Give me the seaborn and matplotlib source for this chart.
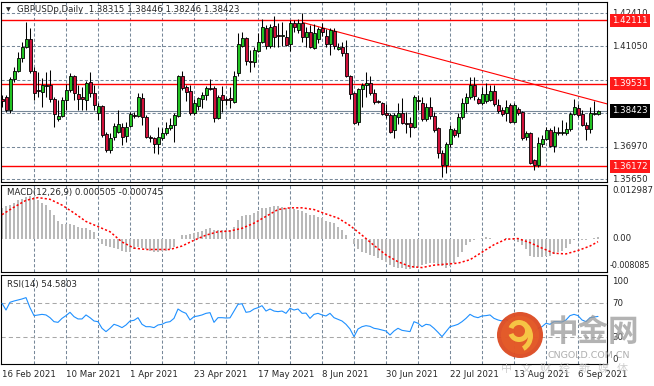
import numpy as np
import matplotlib
matplotlib.use("Agg")
import matplotlib.pyplot as plt
import seaborn as sns
from matplotlib.patches import Circle, Wedge

# Daily GBPUSD candles, 16 Feb 2021 .. 13 Sep 2021
opens = [
    1.3891, 1.3899, 1.3846, 1.3972, 1.4005, 1.4058, 1.4103, 1.4135, 1.4005, 1.3928,
    1.3919, 1.3948, 1.3948, 1.3891, 1.3810, 1.3822, 1.3887, 1.3928, 1.3985, 1.3911,
    1.3899, 1.3887, 1.3960, 1.3915, 1.3834, 1.3862, 1.3749, 1.3683, 1.3736, 1.3757,
    1.3777, 1.3740, 1.3781, 1.3826, 1.3822, 1.3895, 1.3818, 1.3736, 1.3732, 1.3708,
    1.3732, 1.3753, 1.3773, 1.3785, 1.3822, 1.3985, 1.3940, 1.3924, 1.3834, 1.3862,
    1.3891, 1.3907, 1.3936, 1.3936, 1.3814, 1.3907, 1.3891, 1.3895, 1.3879, 1.3997,
    1.4107, 1.4139, 1.4046, 1.4042, 1.4086, 1.4123, 1.4180, 1.4107, 1.4188, 1.4151,
    1.4147, 1.4143, 1.4115, 1.4200, 1.4172, 1.4200, 1.4143, 1.4164, 1.4099, 1.4135,
    1.4180, 1.4147, 1.4115, 1.4168, 1.4094, 1.4103, 1.4078, 1.3985, 1.3915, 1.3797,
    1.3932, 1.3948, 1.3956, 1.3915, 1.3883, 1.3875, 1.3834, 1.3826, 1.3765, 1.3818,
    1.3834, 1.3793, 1.3793, 1.3777, 1.3887, 1.3875, 1.3810, 1.3858, 1.3822, 1.3773,
    1.3671, 1.3622, 1.3708, 1.3765, 1.3753, 1.3818, 1.3875, 1.3899, 1.3948, 1.3891,
    1.3875, 1.3883, 1.3887, 1.3924, 1.3867, 1.3846, 1.3834, 1.3867, 1.3797, 1.3850,
    1.3838, 1.3736, 1.3753, 1.3643, 1.3622, 1.3708, 1.3728, 1.3765, 1.3700, 1.3757,
    1.3753, 1.3753, 1.3769, 1.3830, 1.3854, 1.3830, 1.3785, 1.3769, 1.3830, 1.38315,
]
highs = [
    1.3907, 1.3907, 1.3980, 1.4021, 1.4082, 1.4123, 1.4204, 1.4180, 1.4021, 1.4001,
    1.3976, 1.4001, 1.4009, 1.3899, 1.3887, 1.3899, 1.3952, 1.3997, 1.3989, 1.3948,
    1.3940, 1.3964, 1.4001, 1.3948, 1.3875, 1.3867, 1.3757, 1.3753, 1.3793, 1.3846,
    1.3793, 1.3797, 1.3838, 1.3838, 1.3915, 1.3915, 1.3826, 1.3744, 1.3736, 1.3777,
    1.3773, 1.3797, 1.3814, 1.3834, 1.3989, 1.4005, 1.3948, 1.3948, 1.3891, 1.3899,
    1.3919, 1.3944, 1.3972, 1.3944, 1.3907, 1.3944, 1.3899, 1.3940, 1.4005, 1.4160,
    1.4164, 1.4143, 1.4090, 1.4103, 1.4160, 1.4217, 1.4192, 1.4196, 1.4229, 1.4200,
    1.4204, 1.4172, 1.4212, 1.4212, 1.4217, 1.4241, 1.4184, 1.4192, 1.4196, 1.4184,
    1.4200, 1.4176, 1.4180, 1.4180, 1.4119, 1.4123, 1.4131, 1.3989, 1.3919, 1.3936,
    1.3956, 1.4001, 1.3985, 1.3932, 1.3887, 1.3879, 1.3871, 1.3834, 1.3834, 1.3875,
    1.3895, 1.3838, 1.3818, 1.3907, 1.3907, 1.3899, 1.3875, 1.3899, 1.3838, 1.3777,
    1.3683, 1.3716, 1.3785, 1.3773, 1.3834, 1.3895, 1.3915, 1.3980, 1.3980, 1.3899,
    1.3940, 1.3956, 1.3948, 1.3948, 1.3891, 1.3858, 1.3887, 1.3875, 1.3875, 1.3858,
    1.3842, 1.3761, 1.3757, 1.3647, 1.3736, 1.3744, 1.3777, 1.3773, 1.3781, 1.3777,
    1.3806, 1.3797, 1.3838, 1.3891, 1.3871, 1.3846, 1.3797, 1.3858, 1.3883, 1.38446,
]
lows = [
    1.3858, 1.3838, 1.3834, 1.3960, 1.4001, 1.4042, 1.4099, 1.3997, 1.3887, 1.3899,
    1.3858, 1.3899, 1.3879, 1.3777, 1.3801, 1.3818, 1.3846, 1.3919, 1.3887, 1.3846,
    1.3846, 1.3846, 1.3899, 1.3846, 1.3806, 1.3736, 1.3675, 1.3671, 1.3724, 1.3753,
    1.3704, 1.3716, 1.3777, 1.3814, 1.3818, 1.3785, 1.3732, 1.3716, 1.3671, 1.3667,
    1.3724, 1.3744, 1.3765, 1.3716, 1.3818, 1.3928, 1.3883, 1.3826, 1.3826, 1.3846,
    1.3854, 1.3887, 1.3928, 1.3797, 1.3810, 1.3838, 1.3867, 1.3854, 1.3875, 1.3985,
    1.4103, 1.4029, 1.4001, 1.4021, 1.4082, 1.4119, 1.4094, 1.4099, 1.4103, 1.4103,
    1.4107, 1.4107, 1.4086, 1.4164, 1.4160, 1.4123, 1.4103, 1.4099, 1.4094, 1.4119,
    1.4147, 1.4103, 1.4070, 1.4094, 1.4090, 1.4066, 1.3980, 1.3891, 1.3789, 1.3785,
    1.3858, 1.3899, 1.3907, 1.3871, 1.3875, 1.3826, 1.3814, 1.3753, 1.3732, 1.3789,
    1.3789, 1.3753, 1.3736, 1.3773, 1.3846, 1.3801, 1.3801, 1.3810, 1.3757, 1.3651,
    1.3574, 1.3590, 1.3696, 1.3736, 1.3736, 1.3810, 1.3838, 1.3891, 1.3887, 1.3871,
    1.3867, 1.3875, 1.3883, 1.3862, 1.3834, 1.3822, 1.3801, 1.3793, 1.3793, 1.3826,
    1.3724, 1.3724, 1.3626, 1.3602, 1.3614, 1.3696, 1.3724, 1.3696, 1.3675, 1.3744,
    1.3744, 1.3744, 1.3761, 1.3826, 1.3818, 1.3781, 1.3724, 1.3753, 1.3826, 1.38246,
]
closes = [
    1.3883, 1.3846, 1.3972, 1.4005, 1.4058, 1.4103, 1.4135, 1.4005, 1.3915, 1.3924,
    1.3948, 1.3944, 1.3891, 1.3830, 1.3822, 1.3887, 1.3928, 1.3985, 1.3915, 1.3891,
    1.3891, 1.3956, 1.3915, 1.3867, 1.3862, 1.3744, 1.3683, 1.3732, 1.3781, 1.3789,
    1.3736, 1.3777, 1.3830, 1.3822, 1.3899, 1.3818, 1.3736, 1.3732, 1.3708, 1.3736,
    1.3753, 1.3773, 1.3785, 1.3826, 1.3985, 1.3936, 1.3919, 1.3834, 1.3875, 1.3895,
    1.3907, 1.3936, 1.3932, 1.3814, 1.3899, 1.3887, 1.3887, 1.3887, 1.3985, 1.4115,
    1.4139, 1.4046, 1.4042, 1.4090, 1.4123, 1.4184, 1.4107, 1.4184, 1.4143, 1.4147,
    1.4151, 1.4111, 1.4200, 1.4184, 1.4200, 1.4143, 1.4164, 1.4103, 1.4160, 1.4176,
    1.4164, 1.4115, 1.4172, 1.4107, 1.4103, 1.4078, 1.3985, 1.3911, 1.3793, 1.3932,
    1.3948, 1.3956, 1.3915, 1.3879, 1.3879, 1.3830, 1.3826, 1.3757, 1.3826, 1.3834,
    1.3793, 1.3789, 1.3777, 1.3899, 1.3883, 1.3810, 1.3858, 1.3822, 1.3765, 1.3671,
    1.3622, 1.3708, 1.3769, 1.3744, 1.3818, 1.3875, 1.3899, 1.3948, 1.3903, 1.3875,
    1.3911, 1.3911, 1.3924, 1.3871, 1.3842, 1.3830, 1.3858, 1.3797, 1.3867, 1.3834,
    1.3732, 1.3753, 1.3630, 1.3622, 1.3712, 1.3728, 1.3765, 1.3700, 1.3757, 1.3753,
    1.3757, 1.3769, 1.3830, 1.3858, 1.3826, 1.3785, 1.3769, 1.3834, 1.3834, 1.38423,
]

# MACD(12,26,9) main (histogram) and signal (read every third bar)
macd_main = [
    0.00746, 0.00787, 0.00812, 0.00870, 0.00928, 0.00969, 0.01010, 0.01035, 0.01010, 0.00928,
    0.00870, 0.00812, 0.00704, 0.00564, 0.00415, 0.00349, 0.00349, 0.00345, 0.00332, 0.00291,
    0.00266, 0.00250, 0.00208, 0.00167, 0.00010, -0.00122, -0.00180, -0.00205, -0.00230, -0.00246,
    -0.00288, -0.00312, -0.00329, -0.00263, -0.00205, -0.00230, -0.00263, -0.00288, -0.00312, -0.00312,
    -0.00305, -0.00288, -0.00246, -0.00205, -0.00015, 0.00084, 0.00084, 0.00101, 0.00126, 0.00167,
    0.00192, 0.00225, 0.00250, 0.00208, 0.00208, 0.00208, 0.00208, 0.00208, 0.00291, 0.00456,
    0.00539, 0.00564, 0.00564, 0.00622, 0.00680, 0.00746, 0.00746, 0.00762, 0.00779, 0.00779,
    0.00762, 0.00746, 0.00746, 0.00729, 0.00704, 0.00663, 0.00622, 0.00580, 0.00564, 0.00514,
    0.00498, 0.00432, 0.00398, 0.00374, 0.00291, 0.00208, 0.00084, 0.00002, -0.00122, -0.00246,
    -0.00312, -0.00346, -0.00395, -0.00428, -0.00478, -0.00511, -0.00560, -0.00643, -0.00676, -0.00701,
    -0.00709, -0.00726, -0.00726, -0.00701, -0.00676, -0.00643, -0.00618, -0.00594, -0.00594, -0.00618,
    -0.00660, -0.00701, -0.00660, -0.00594, -0.00453, -0.00312, -0.00164, -0.00081, -0.00040, -0.00015,
    0.00018, 0.00043, 0.00026, 0.00002, -0.00006, -0.00006, 0.00010, -0.00015, -0.00040, -0.00081,
    -0.00164, -0.00263, -0.00412, -0.00453, -0.00453, -0.00453, -0.00428, -0.00412, -0.00370, -0.00329,
    -0.00288, -0.00230, -0.00122, -0.00040, -0.00015, -0.00040, -0.00040, 0.00002, 0.00018, 0.000505,
]
signal_idx = list(range(0, 150, 3)) + [149]
signal_vals = [
    0.00580, 0.00762, 0.00928, 0.00994, 0.00952, 0.00812, 0.00622, 0.00415, 0.00291, 0.00167,
    -0.00081, -0.00230, -0.00263, -0.00263, -0.00263, -0.00180, -0.00040, 0.00084, 0.00167, 0.00184,
    0.00250, 0.00374, 0.00539, 0.00704, 0.00746, 0.00746, 0.00704, 0.00597, 0.00498, 0.00316,
    0.00084, -0.00164, -0.00395, -0.00560, -0.00676, -0.00701, -0.00643, -0.00618, -0.00594, -0.00511,
    -0.00329, -0.00147, -0.00015, 0.00002, -0.00098, -0.00230, -0.00354, -0.00370, -0.00288, -0.00180,
    -0.000745,
]

# RSI(14)
rsi = [
    70.0, 62.1, 71.2, 72.7, 73.9, 75.1, 76.7, 64.9, 55.5, 56.3,
    57.0, 56.3, 53.1, 48.4, 47.6, 52.3, 55.5, 59.4, 54.3, 51.6,
    51.6, 56.3, 53.1, 49.2, 48.4, 40.6, 36.7, 40.6, 45.3, 43.7,
    41.4, 44.5, 49.2, 50.0, 53.1, 45.3, 42.5, 42.5, 41.4, 44.5,
    45.3, 47.6, 48.4, 52.3, 63.3, 60.2, 58.2, 50.4, 54.3, 55.1,
    56.3, 58.2, 59.0, 47.6, 53.1, 53.1, 52.7, 52.9, 60.9, 68.8,
    69.5, 59.4, 60.2, 63.3, 64.9, 67.2, 60.9, 63.3, 60.9, 60.2,
    60.9, 58.2, 64.1, 62.1, 63.3, 58.2, 58.5, 52.3, 57.0, 58.2,
    56.3, 55.1, 58.2, 53.1, 51.2, 49.2, 45.3, 39.8, 30.8, 39.8,
    42.5, 43.7, 42.9, 40.6, 39.8, 38.6, 37.4, 32.7, 37.4, 40.6,
    38.2, 37.4, 36.7, 48.4, 46.5, 42.5, 45.3, 44.5, 40.6, 35.9,
    30.8, 36.7, 42.5, 43.7, 45.3, 48.4, 52.3, 57.0, 54.3, 53.1,
    55.1, 55.5, 56.3, 52.3, 50.4, 49.2, 51.6, 47.6, 51.6, 50.4,
    40.6, 41.4, 32.7, 34.7, 40.6, 42.5, 46.5, 45.3, 48.4, 48.4,
    48.0, 50.4, 55.5, 57.0, 55.5, 50.4, 48.4, 53.1, 53.9, 54.58,
]

levels = [1.42111, 1.39531, 1.36172]
level_labels = ["1.42111", "1.39531", "1.36172"]
price_ticks = [1.42410, 1.41050, 1.39690, 1.38330, 1.36970, 1.35650]
# labels of the grid levels that are not covered by a price box
price_tick_labels = ["1.42410", "1.41050", "", "", "1.36970", "1.35650"]
last_price = 1.38423
trend_x = [75.25, 151.25]
trend_y = [1.4202, 1.3871]
date_idx = [0, 16, 32, 48, 64, 80, 96, 112, 128, 144]
date_labels = ["16 Feb 2021", "10 Mar 2021", "1 Apr 2021", "23 Apr 2021", "17 May 2021",
               "8 Jun 2021", "30 Jun 2021", "22 Jul 2021", "13 Aug 2021", "6 Sep 2021"]

sns.set_style("white")
plt.rcParams['font.family'] = ['DejaVu Sans', 'Noto Sans CJK SC']

W, H = 654, 386
GRID = '#778899'
GREEN = '#22c322'
RED = '#d0103a'
FS = 6.2

fig = plt.figure(figsize=(W / 100, H / 100), dpi=100)


def px_axes(x0, y0, x1, y1):
    return fig.add_axes([x0 / W, 1 - y1 / H, (x1 - x0) / W, (y1 - y0) / H])


ax_p = px_axes(1, 2, 607, 182)
ax_m = px_axes(1, 185, 607, 272)
ax_r = px_axes(1, 275, 607, 364)

x = np.arange(len(opens))
for ax in (ax_p, ax_m, ax_r):
    ax.set_xlim(-0.25, 151.25)
    ax.set_yticks([])
    ax.set_xticks([])
    for s in ax.spines.values():
        s.set_color('black')
        s.set_linewidth(0.8)
    for i in range(8, 150, 8):
        ax.axvline(i, color=GRID, lw=0.75, ls=(0, (3, 2)), zorder=0)


def right_label(ax, value, text, va='center', box=None, dy=0, dx=5, size=FS):
    kw = dict(xy=(1, value), xycoords=('axes fraction', 'data'), xytext=(dx, dy),
              textcoords='offset pixels', ha='left', va=va, fontsize=size,
              annotation_clip=False)
    if box is not None:
        kw['color'] = 'white'
        kw['bbox'] = dict(boxstyle='square,pad=0.25', fc=box, ec='none')
    ax.annotate(text, **kw)


# ---- price panel
ax_p.set_ylim(1.35529, 1.42858)
for v, t in zip(price_ticks, price_tick_labels):
    ax_p.axhline(v, color=GRID, lw=0.75, ls=(0, (3, 2)), zorder=0)
    if t:
        right_label(ax_p, v, t)
ax_p.axhline(last_price, color=GRID, lw=0.8, zorder=1)
for v in levels:
    ax_p.axhline(v, color='red', lw=1.0, zorder=1)
ax_p.plot(trend_x, trend_y, color='red', lw=0.8, zorder=1)

o, h, l, c = map(np.array, (opens, highs, lows, closes))
body_col = np.where(c >= o, GREEN, RED)
ax_p.vlines(x, l, h, color='black', lw=0.75, zorder=2)
ax_p.bar(x, np.abs(c - o), bottom=np.minimum(o, c), width=0.75, color=body_col,
         edgecolor='black', linewidth=0.6, zorder=3)

for v, t in zip(levels, level_labels):
    right_label(ax_p, v, t, box='#ff1a1a')
right_label(ax_p, last_price, f"{last_price:.5f}", box='black')

ax_p.annotate("\u25BC", xy=(0, 1), xycoords='axes fraction', xytext=(5, -8),
              textcoords='offset pixels', fontsize=4.5, va='center', ha='left')
ax_p.annotate("GBPUSDp,Daily  1.38315 1.38446 1.38246 1.38423", xy=(0, 1),
              xycoords='axes fraction', xytext=(16, -8), textcoords='offset pixels',
              fontsize=FS, va='center', ha='left', zorder=5)

# ---- MACD panel
ax_m.set_ylim(-0.008085, 0.012987)
ax_m.bar(x, macd_main, width=0.28, color='#b9b9b9', linewidth=0, zorder=2)
sns.lineplot(x=signal_idx, y=signal_vals, ax=ax_m, color='red', lw=1.1,
             linestyle=(0, (1.4, 1.4)), zorder=3)
ax_m.set_xlabel('')
ax_m.set_ylabel('')
ax_m.annotate("MACD(12,26,9) 0.000505 -0.000745", xy=(0, 1), xycoords='axes fraction',
              xytext=(6, -8), textcoords='offset pixels', fontsize=FS, va='center')
right_label(ax_m, 0.012987, "0.012987", va='top', dy=-1)
right_label(ax_m, 0.0, "0.00")
right_label(ax_m, -0.008085, "-0.008085", va='bottom', dy=2, dx=3, size=5.8)

# ---- RSI panel
ax_r.set_ylim(-1.4, 103.3)
for v in (70, 30):
    ax_r.axhline(v, color='#a8a8a8', lw=0.75, ls=(0, (4, 3)), zorder=1)
sns.lineplot(x=x, y=rsi, ax=ax_r, color='#1e90ff', lw=0.8, zorder=3)
ax_r.set_xlabel('')
ax_r.set_ylabel('')
ax_r.annotate("RSI(14) 54.5803", xy=(0, 1), xycoords='axes fraction',
              xytext=(6, -9), textcoords='offset pixels', fontsize=FS, va='center')
right_label(ax_r, 100, "100", va='top', dy=1)
right_label(ax_r, 70, "70")
right_label(ax_r, 30, "30")
right_label(ax_r, 0, "0", va='bottom', dy=-1)

ax_r.set_xticks(date_idx)
ax_r.set_xticklabels(date_labels, fontsize=FS)
for t in ax_r.get_xticklabels():
    t.set_ha('left')
ax_r.tick_params(axis='x', length=3, width=0.6, direction='out', pad=1.5, color='black')

# ---- watermark
ov = fig.add_axes([0, 0, 1, 1], zorder=10)
ov.set_xlim(0, W)
ov.set_ylim(H, 0)
ov.axis('off')
ov.add_patch(Circle((520, 335), 23, fc='#dc4a20', ec='none', alpha=0.95))
ov.add_patch(Circle((520, 335), 19, fc='#e8622a', ec='none', alpha=0.6))
ov.add_patch(Wedge((519, 331), 11, 200, 520, width=5, fc='#f6c444', ec='none'))
ov.add_patch(Wedge((516, 336), 17, 300, 420, width=5, fc='#f6c444', ec='none'))
ov.text(547, 332, "中金网", fontsize=22, family=['Noto Sans CJK SC'], color='#9a9a9a',
        alpha=0.75, va='center', ha='left', fontweight='bold')
ov.text(548, 355, "CNGOLD.COM.CN", fontsize=6.8, color='#9a9a9a', alpha=0.8,
        va='center', ha='left')
for k, ch in enumerate("中文财经新媒体"):
    ov.text(507 + k * 19.2, 369, ch, fontsize=8, family=['Noto Sans CJK SC'],
            color='#c4c4c4', alpha=0.8, va='center', ha='center')

fig.savefig("out.png", dpi=100)
